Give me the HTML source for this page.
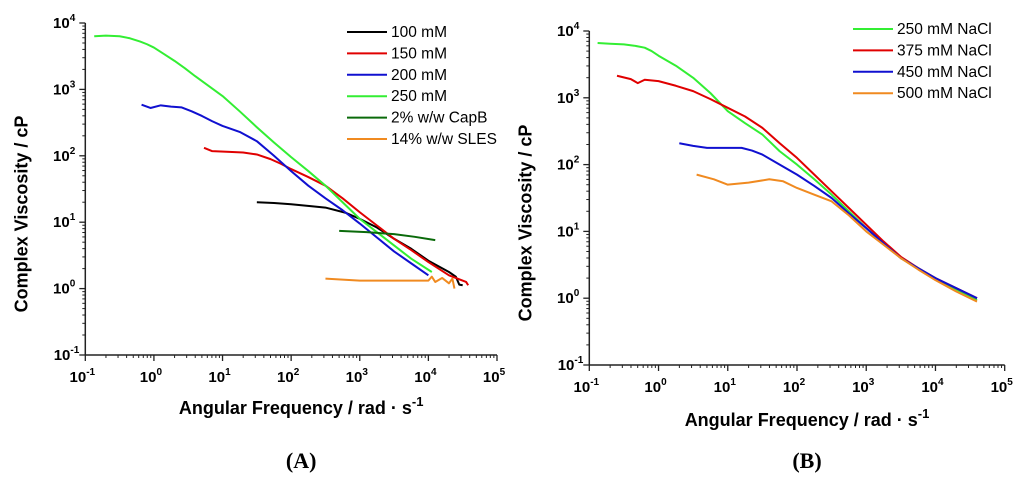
<!DOCTYPE html>
<html><head><meta charset="utf-8"><style>
body{margin:0;background:#fff;width:1024px;height:479px;overflow:hidden}
svg{font-family:"Liberation Sans",Arial,sans-serif}
</style></head><body>
<svg id="s" width="1024" height="479"></svg>
<script>
const decadesX=[-1,0,1,2,3,4,5];
const decadesY=[-1,0,1,2,3,4];
const namesA=["100 mM","150 mM","200 mM","250 mM","2% w/w CapB","14% w/w SLES"];
const colorsA=["#000000","#e00000","#1010d0","#33ee33","#0a6a0a","#f08a20"];
const a100=[[1.5,1.3],[1.75,1.29],[2,1.27],[2.3,1.24],[2.5,1.22],[2.8,1.14],[3,1.05],[3.25,0.92],[3.5,0.75],[3.75,0.6],[4,0.42],[4.3,0.25],[4.4,0.18],[4.45,0.06],[4.5,0.05]];
const a150=[[0.73,2.12],[0.85,2.07],[1.1,2.06],[1.3,2.05],[1.5,2.02],[1.7,1.95],[1.85,1.88],[2,1.8],[2.25,1.68],[2.5,1.55],[2.75,1.36],[3,1.15],[3.25,0.95],[3.5,0.75],[3.75,0.58],[4,0.4],[4.3,0.2],[4.55,0.1],[4.58,0.05]];
const a200=[[-0.18,2.77],[-0.05,2.72],[0.1,2.76],[0.25,2.74],[0.4,2.73],[0.55,2.67],[0.7,2.6],[0.85,2.52],[1,2.45],[1.25,2.36],[1.5,2.22],[1.75,2.0],[2,1.77],[2.25,1.55],[2.5,1.36],[2.75,1.18],[3,0.98],[3.25,0.77],[3.5,0.56],[3.75,0.38],[4,0.2]];
const a250=[[-0.87,3.8],[-0.7,3.81],[-0.5,3.8],[-0.35,3.77],[-0.2,3.72],[-0.1,3.68],[0,3.63],[0.15,3.53],[0.3,3.43],[0.45,3.32],[0.6,3.2],[0.8,3.05],[1,2.9],[1.25,2.67],[1.5,2.43],[1.75,2.2],[2,1.98],[2.25,1.77],[2.5,1.55],[2.75,1.3],[3,1.05],[3.25,0.85],[3.5,0.65],[3.75,0.45],[4.05,0.25]];
const aCap=[[2.7,0.87],[3.1,0.85],[3.5,0.82],[3.8,0.78],[4.1,0.73]];
const aSles=[[2.5,0.15],[3,0.12],[4,0.12],[4.05,0.18],[4.1,0.1],[4.2,0.16],[4.3,0.08],[4.35,0.15],[4.38,0]];
const namesB=["250 mM NaCl","375 mM NaCl","450 mM NaCl","500 mM NaCl"];
const colorsB=["#33ee33","#e00000","#1010d0","#f08a20"];
const b250=[[-0.88,3.82],[-0.7,3.81],[-0.5,3.8],[-0.35,3.78],[-0.2,3.75],[-0.1,3.7],[0,3.63],[0.25,3.48],[0.5,3.3],[0.75,3.07],[1,2.8],[1.25,2.62],[1.5,2.45],[1.75,2.2],[2,2.0],[2.25,1.78],[2.5,1.55],[2.75,1.3],[3,1.05],[3.25,0.82],[3.5,0.6],[3.75,0.44],[4,0.3],[4.3,0.13],[4.6,-0.03]];
const b375=[[-0.6,3.33],[-0.4,3.28],[-0.3,3.22],[-0.2,3.27],[0,3.25],[0.25,3.18],[0.5,3.1],[0.75,2.98],[1,2.85],[1.25,2.72],[1.5,2.55],[1.75,2.32],[2,2.1],[2.25,1.85],[2.5,1.6],[2.75,1.35],[3,1.1],[3.25,0.85],[3.5,0.62],[3.75,0.45],[4,0.3],[4.3,0.15],[4.6,0.0]];
const b450=[[0.3,2.32],[0.5,2.28],[0.7,2.25],[1,2.25],[1.2,2.25],[1.35,2.21],[1.5,2.15],[1.75,2.0],[2,1.85],[2.25,1.68],[2.5,1.5],[2.75,1.27],[3,1.05],[3.25,0.82],[3.5,0.6],[3.75,0.45],[4,0.3],[4.3,0.15],[4.6,0.0]];
const b500=[[0.55,1.85],[0.8,1.78],[1,1.7],[1.3,1.73],[1.6,1.78],[1.8,1.75],[2,1.65],[2.25,1.55],[2.5,1.45],[2.75,1.24],[3,1.0],[3.25,0.8],[3.5,0.6],[3.75,0.43],[4,0.27],[4.3,0.1],[4.6,-0.05]];
const NS="http://www.w3.org/2000/svg";const svg=document.getElementById('s');
function el(t,at,p){const e=document.createElementNS(NS,t);for(const k in at)e.setAttribute(k,at[k]);(p||svg).appendChild(e);return e;}
function panel(id,x0,x1,y0,y1,series,colors,names,legX,legY,titleY,tickY,lab,labY){
 const g=el('g',{});
 const sx=v=>x0+(v+1)/6*(x1-x0), sy=v=>y1-(v+1)/5*(y1-y0);
 el('line',{x1:x0,y1:y0,x2:x0,y2:y1,stroke:'#222','stroke-width':1.5},g);
 el('line',{x1:x0,y1:y1,x2:x1,y2:y1,stroke:'#222','stroke-width':1.5},g);
 decadesX.forEach(d=>{const x=sx(d);el('line',{x1:x,y1:y1,x2:x,y2:y1+6,stroke:'#222','stroke-width':1.3},g);
  if(d<5)for(let m=2;m<10;m++){const xm=sx(d+Math.log10(m));el('line',{x1:xm,y1:y1,x2:xm,y2:y1+3,stroke:'#222'},g);}
  const t=el('text',{x:x-3,y:tickY,'font-size':15,'font-weight':'bold','text-anchor':'middle'},g);t.textContent='10';
  const s=el('tspan',{dy:-7,'font-size':10},t);s.textContent=d;
  });
 decadesY.forEach(d=>{const y=sy(d);el('line',{x1:x0,y1:y,x2:x0-6,y2:y,stroke:'#222','stroke-width':1.3},g);
  if(d<4)for(let m=2;m<10;m++){const ym=sy(d+Math.log10(m));el('line',{x1:x0,y1:ym,x2:x0-3,y2:ym,stroke:'#222'},g);}
  const t=el('text',{x:x0-10,y:y+5,'font-size':15,'font-weight':'bold','text-anchor':'end'},g);
  
  const a=el('tspan',{},t);a.textContent='10';const s=el('tspan',{dy:-7,'font-size':10},t);s.textContent=d;
  t.setAttribute('dx',d<0?4:0);});
 series.forEach((sr,i)=>{const p=el('polyline',{points:sr.map(q=>sx(q[0])+','+sy(q[1])).join(' '),fill:'none',stroke:colors[i],'stroke-width':2,'stroke-linejoin':'round'},g);
  
  const ly=legY+i*21.4;el('line',{x1:legX,y1:ly,x2:legX+40,y2:ly,stroke:colors[i],'stroke-width':2},g);
  const t=el('text',{x:legX+44,y:ly+5,'font-size':15.5},g);t.textContent=names[i];
  });
 const xt=el('text',{x:(x0+x1)/2+10,y:titleY,'font-size':18,'font-weight':'bold','text-anchor':'middle'},g);
 
 xt.appendChild(document.createTextNode('Angular Frequency / rad · s'));const sp=el('tspan',{dy:-8,'font-size':13},xt);sp.textContent='-1';
 const yt=el('text',{x:0,y:0,'font-size':18,'font-weight':'bold','text-anchor':'middle',transform:`translate(${x0-58},${(y0+y1)/2+25}) rotate(-90)`},g);
 yt.textContent='Complex Viscosity / cP';
 const l=el('text',{x:(x0+x1)/2+10,y:labY,'font-size':22,'font-weight':'bold','text-anchor':'middle','font-family':'Liberation Serif,serif'},g);
 l.textContent=lab;
}
panel('panel-a',85.3,497,23,355,[a100,a150,a200,a250,aCap,aSles],colorsA,namesA,347,32,414,382,'(A)',468);
panel('panel-b',589.3,1004.7,31,365,[b250,b375,b450,b500],colorsB,namesB,853,29,426,392,'(B)',468);
</script></body></html>
